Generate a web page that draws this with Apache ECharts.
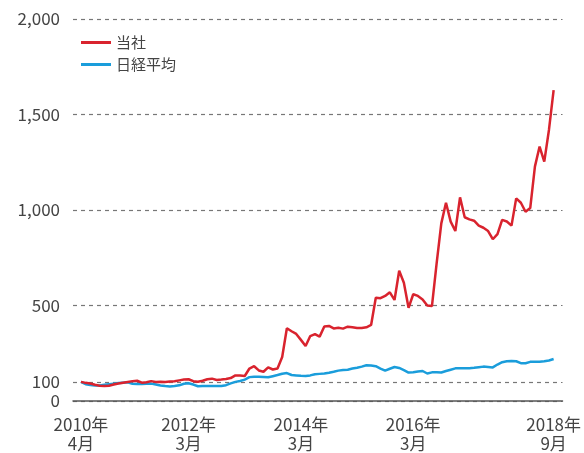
<!DOCTYPE html>
<html>
<head>
<meta charset="utf-8">
<script src="https://cdn.jsdelivr.net/npm/echarts@6/dist/echarts.min.js"></script>
<style>
  html, body { margin: 0; padding: 0; background: #fff; }
  #chart { width: 584px; height: 453px; }
</style>
</head>
<body>
<div id="chart"></div>
<script>
// monthly index values, 2010年4月 = 100 (102 months, to 2018年9月)
const company = [
  100, 95, 92, 85, 80, 78, 80, 86, 92, 96,
  100, 104, 106, 96, 98, 104, 100, 101, 100, 102,
  103, 108, 112, 114, 104, 101, 106, 114, 117, 110,
  112, 115, 120, 134, 133, 131, 170, 182, 160, 153,
  176, 165, 170, 230, 381, 365, 351, 320, 288, 340,
  350, 337, 390, 393, 380, 383, 379, 389, 386, 382,
  382, 386, 398, 541, 538, 550, 569, 529, 682, 619,
  488, 559, 550, 532, 500, 497, 720, 930, 1038, 939,
  890, 1066, 962, 951, 944, 918, 907, 890, 847, 874,
  948, 940, 918, 1061, 1038, 991, 1010, 1227, 1332, 1253,
  1419, 1628
]
const nikkei = [
  100, 88, 84, 81, 81, 85, 88, 91, 94, 96,
  98, 90, 89, 89, 90, 91, 86, 81, 78, 76,
  78, 82, 90, 93, 86, 77, 78, 79, 79, 79,
  79, 83, 92, 100, 105, 112, 125, 127, 127, 126,
  124, 130, 136, 143, 146, 136, 134, 132, 131, 134,
  140, 142, 144, 148, 153, 159, 162, 164, 170, 174,
  180, 187, 186, 182, 170, 159, 169, 178, 173, 162,
  149, 151, 155, 157, 144, 150, 150, 149, 157, 164,
  171, 171, 171, 172, 174, 177, 180, 178, 176, 191,
  203, 208, 210, 208, 198, 198, 205, 206, 206, 208,
  212, 220
]
const seriesNames = ['当社', '日経平均']
const tickIndex = [0, 23, 47, 71, 101]
const tickLabels = ['2010年\n4月', '2012年\n3月', '2014年\n3月', '2016年\n3月', '2018年\n9月']
const yTicks = [0, 100, 500, 1000, 1500, 2000]

const chart = echarts.init(document.getElementById('chart'))
const font = '"Noto Sans CJK JP", "Noto Sans", sans-serif'

const toPairs = arr => arr.map((v, i) => [i, v])

const option = {
  animation: false,
  textStyle: { fontFamily: font },
  legend: {
    orient: 'vertical',
    left: 76,
    top: 30,
    itemWidth: 30,
    itemHeight: 10,
    itemGap: 7,
    icon: 'path://M0,4 L30,4 L30,7 L0,7 Z',
    textStyle: { fontSize: 15, color: '#444', fontFamily: font },
    data: seriesNames
  },
  grid: { left: 73, right: 18, top: 19, bottom: 52 },
  xAxis: {
    type: 'value',
    min: -1.7,
    max: 102.9,
    axisLine: { show: true, lineStyle: { color: '#555', width: 1.5 } },
    axisTick: { show: false },
    splitLine: { show: false },
    axisLabel: {
      customValues: tickIndex,
      formatter: v => tickLabels[tickIndex.indexOf(v)] || '',
      fontSize: 17,
      lineHeight: 19,
      color: '#444',
      margin: 14
    }
  },
  yAxis: {
    type: 'value',
    min: 0,
    max: 2000,
    axisLine: { show: false },
    axisTick: { show: false, customValues: yTicks },
    splitLine: {
      show: true,
      lineStyle: { color: '#777', type: [4, 4], width: 1.2 }
    },
    axisLabel: {
      customValues: yTicks,
      formatter: v => v.toLocaleString('en-US'),
      fontSize: 17,
      color: '#444',
      margin: 13
    }
  },
  series: [
    {
      name: seriesNames[0],
      type: 'line',
      data: toPairs(company),
      showSymbol: false,
      z: 3,
      lineStyle: { color: '#d9232e', width: 2.5 },
      itemStyle: { color: '#d9232e' }
    },
    {
      name: seriesNames[1],
      type: 'line',
      data: toPairs(nikkei),
      showSymbol: false,
      z: 2,
      lineStyle: { color: '#1a9ddb', width: 2.5 },
      itemStyle: { color: '#1a9ddb' }
    }
  ]
}

chart.setOption(option)
</script>
</body>
</html>
